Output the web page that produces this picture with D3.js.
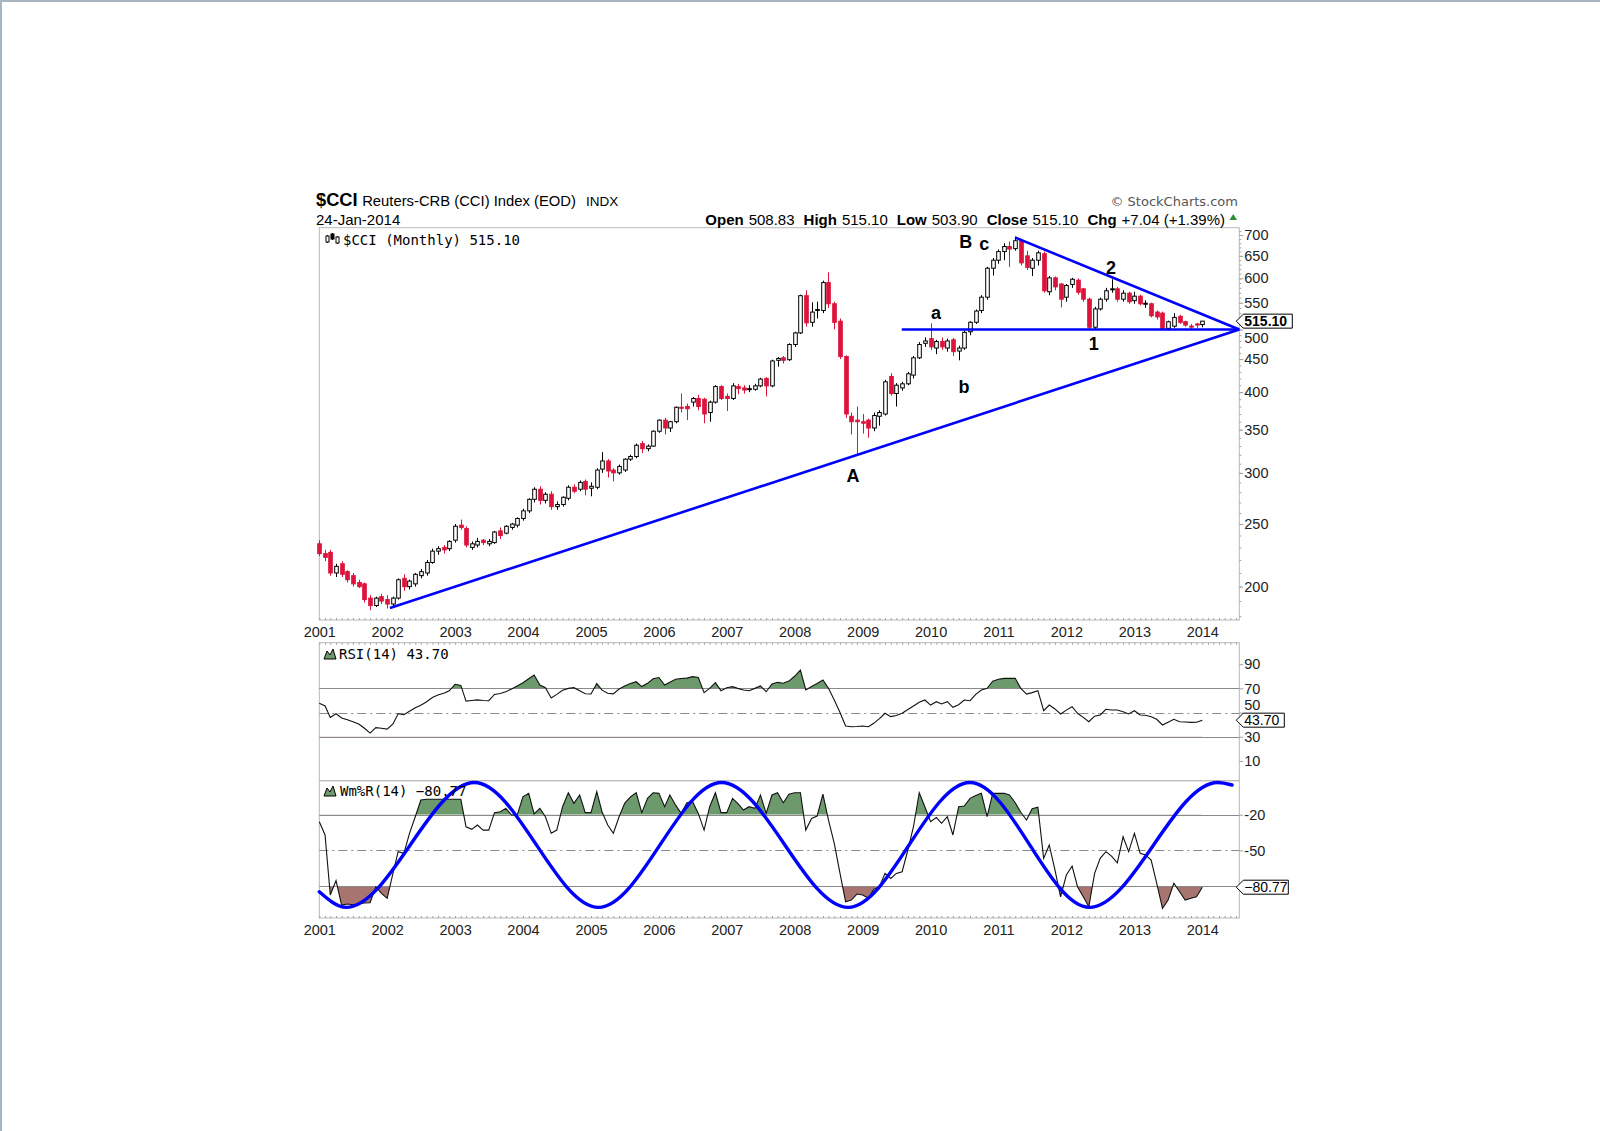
<!DOCTYPE html>
<html>
<head>
<meta charset="utf-8">
<script src="https://cdnjs.cloudflare.com/ajax/libs/d3/7.8.5/d3.min.js"></script>
<style>
body{margin:0;background:#fff;}
svg{display:block;font-family:Arial,"Liberation Sans",sans-serif;}
</style>
</head>
<body>
<script>
// monthly candles from Jan 2001, [open, high, low, close]
const firstMonth = '2001-01-01';
const ohlc = [
  [233,236,223,225],[225,228,219,222],[226,228,208,210],[210,217,207,215],[217,219,207,209],[211,212,203,205],
  [208,210,200,202],[203,205,199,200],[202,203,189,191],[192,194,184,187],[187,193,186,192],[193,195,188,190],
  [191,194,185,188],[188,193,186,192],[192,206,191,205],[206,209,197,200],[200,205,198,204],[202,210,200,209],
  [208,213,206,211],[210,220,208,218],[218,229,217,227],[227,231,224,229],[230,232,225,228],[229,236,227,235],
  [236,250,234,248],[249,254,245,247],[246,248,230,232],[230,235,228,233],[232,238,230,235],[236,237,232,234],
  [233,237,231,235],[234,244,233,243],[244,247,237,240],[242,249,241,248],[247,251,245,250],[249,256,247,255],
  [255,264,253,262],[262,274,260,273],[273,285,270,283],[283,286,268,272],[272,280,269,278],[278,281,263,266],
  [266,271,263,268],[268,276,266,275],[274,287,272,285],[285,288,279,281],[283,292,281,290],[291,293,277,283],
  [284,290,276,286],[285,305,283,303],[304,323,300,313],[313,315,295,302],[303,305,291,300],[300,309,298,307],
  [303,316,301,315],[315,320,313,318],[318,333,316,331],[333,336,322,327],[327,332,324,330],[330,349,329,348],
  [348,363,346,362],[362,365,344,352],[352,361,347,360],[360,380,358,379],[379,398,372,378],[380,384,362,377],
  [386,393,380,391],[391,396,375,380],[390,392,358,370],[372,388,360,386],[386,410,384,408],[408,410,389,391],
  [394,398,374,391],[391,413,389,409],[408,412,397,405],[406,410,398,403],[405,410,400,405],[404,412,402,409],
  [409,421,407,419],[420,422,394,409],[409,449,407,447],[448,453,438,451],[452,455,443,448],[449,476,447,474],
  [474,496,470,494],[494,566,492,564],[564,575,505,512],[513,551,505,532],[535,552,520,537],[535,595,530,591],
  [591,613,540,548],[548,552,500,513],[515,520,450,454],[454,456,365,370],[367,372,344,360],[362,380,320,360],
  [360,370,345,358],[362,364,340,352],[352,372,348,368],[367,375,355,372],[370,418,368,415],[423,428,395,398],
  [398,413,380,410],[406,415,402,412],[412,430,410,427],[425,455,420,452],[452,478,450,474],[476,486,470,480],
  [484,511,465,470],[468,482,458,479],[479,486,465,470],[468,484,462,480],[482,485,455,462],[463,472,448,468],
  [468,498,465,495],[496,515,490,513],[513,537,510,534],[535,565,530,561],[561,625,556,622],[622,645,606,640],
  [640,665,632,660],[660,680,640,672],[672,684,625,666],[667,696,662,686],[686,690,628,634],[650,662,618,624],
  [622,645,605,640],[640,662,628,657],[655,660,570,574],[572,605,565,601],[601,604,575,582],[588,590,541,557],
  [561,588,552,585],[587,601,580,598],[596,600,566,571],[578,580,552,557],[557,560,500,504],[504,542,500,538],
  [538,560,535,557],[557,580,552,574],[576,598,570,578],[578,582,552,557],[557,575,552,569],[569,572,548,552],
  [554,572,548,563],[563,566,545,548],[548,555,540,549],[548,550,522,525],[532,535,518,523],[530,533,499,501],
  [502,516,498,514],[506,530,503,522],[524,527,510,513],[514,516,505,508],[506,510,501,505],[510,512,503,508],
  [508.83,515.10,503.90,515.10]
];

const rsi = [
  57.6,55.5,46,49,45.5,44,42.4,40.5,37,33,37.5,37,
  36.3,40.5,49,48.2,51,54,56,59,62.5,64.5,66,68,
  73.4,72.5,59.5,60,60.5,60,59.8,65,65.8,67.2,69.5,72,
  74.7,78,81,72.8,70.6,62,65,68.5,70,70.6,68,65.5,
  65.3,74,68.5,66,65.5,69.5,72,74,75.5,71.5,74.2,78,
  79,72.8,75,77.5,78.2,78.5,79.7,79,66.4,70,74.7,68.1,
  70.5,71.4,70,68.7,68.1,70,72,67.2,73.6,75,74.2,76,
  80,85.2,68.7,71.5,74,76.9,70,60.4,50,38.9,38.3,38.5,
  38.9,38.3,41.1,45,49.4,46.6,47.5,49.4,52.5,55.4,58.5,60.4,
  56.2,59,57.1,59,54.3,56.5,60.4,59.8,65,68.7,70,76,
  77.5,78.3,78.3,78.3,70,65.3,66.5,68.1,51.5,56.2,53,48.8,
  52,54.8,49.4,46,42.4,47,48,52.7,52.1,52.1,50.7,48.8,
  51.5,48,47.8,46.6,44.4,39.7,42,44.4,42.4,42.2,41.9,42,
  43.7
];

const wpr = [
  -25.9,-37,-87.3,-75.3,-95.7,-94.9,-95.5,-94.6,-94,-93.8,-80.4,-86,
  -90.1,-69.2,-51,-52.4,-35.6,-21.7,-7.7,-7.1,-7.1,-7.1,-7.1,-7.1,
  -7.1,-7.1,-30.1,-32.3,-28.7,-32.9,-32.9,-18.3,-17.5,-14.7,-20.3,-20.3,
  -5,-2.1,-19.4,-14.7,-21.7,-35.6,-32.9,-13.3,-1.6,-10.5,-3.5,-18.3,
  -18.3,-0.7,-17.5,-28.7,-35.6,-21.7,-10.5,-5,-1.6,-18.3,-6.3,-1.6,
  -2.1,-13.3,-3.5,-12,-18.9,-10,-9.1,-18.9,-32.9,-13.3,-1.6,-18.3,
  -18.3,-6.3,-10.5,-16.1,-13.3,-14.7,-3.5,-18.9,-3.5,-1.6,-10,-2.8,
  -1.6,-1.6,-32.9,-23.1,-21.1,-2.8,-24.5,-44,-69.2,-93,-91.6,-86.5,
  -87.3,-90.1,-82.6,-80.4,-69.2,-73.4,-69.2,-67.8,-49.6,-30.1,-1.6,-13.3,
  -25.9,-22.4,-27.2,-21.7,-37,-13.3,-12.7,-6.3,-4,-2.1,-21.7,-2.1,
  -2.1,-2.1,-3.5,-10,-18,-24.5,-15,-13.8,-56.6,-45.4,-66.4,-88.8,
  -70.6,-63,-80.4,-88.8,-97.1,-69.2,-56.6,-51,-55,-60.3,-38.5,-51,
  -35.6,-52.4,-53.7,-58,-77.5,-98.5,-91.5,-77.5,-84.6,-91.5,-90,-88.8,
  -80.77
];

// hand drawn cycle on the Williams %R panel: turning points
const cycle = [
  ['2001-01-01',-84.6],['2001-05-25',-97.7],['2003-04-15',7],['2005-02-10',-97.7],['2006-12-04',7],
  ['2008-10-15',-97.7],['2010-08-01',7],['2012-05-04',-97.7],['2014-03-25',7],['2014-06-10',4.9]
];

// trend lines on the price panel: [start date, value, end date, value]
const trendLines = [
  ['2002-01-16',185.3,'2014-07-19',500],
  ['2011-03-31',694,'2014-07-19',500],
  ['2009-07-30',500,'2014-07-19',500]
];

const waveLabels = [
  ['A','2008-11-10',296.7],['a','2010-01-30',532],['b','2010-06-29',408],
  ['B','2010-07-09',683],['c','2010-10-16',680],['1','2012-05-28',476],['2','2012-08-28',624]
];

const years = d3.range(2001, 2015);
const priceTicks = [200,250,300,350,400,450,500,550,600,650,700];
const rsiTicks = [90,70,50,30,10];
const rsiLines = [70,30];
const wprTicks = [-20,-50,-80];
const wprLines = [-20,-80];

const W = 1600, H = 1131;
const red = '#dc143c', blue = '#0000ff', green = '#6d9a6d', brown = '#a8746f';
const parseDate = d3.timeParse('%Y-%m-%d');

let svg = d3.select('body').append('svg')
    .attr('width', W)
    .attr('height', H);

// page frame
svg.append('path')
    .attr('d', `M1,${H} V1 H${W}`)
    .attr('fill', 'none')
    .attr('stroke', '#a9b4c1')
    .attr('stroke-width', 2);

let plot = {left: 319.3, right: 1239.3};
let panels = {
    price: {top: 227.7, bottom: 620},
    rsi: {top: 642.7, bottom: 780.7},
    wpr: {top: 780.7, bottom: 918}
};

let x = d3.scaleTime()
    .domain([parseDate('2001-01-01'), parseDate('2014-07-19')])
    .range([plot.left, plot.right]);
let yPrice = d3.scaleLog().domain([177.6, 718.6]).range([panels.price.bottom, panels.price.top]);
let yRsi = d3.scaleLinear().domain([-6.4, 107.8]).range([panels.rsi.bottom, panels.rsi.top]);
let yWpr = d3.scaleLinear().domain([-106.6, 8.5]).range([panels.wpr.bottom, panels.wpr.top]);

let months = d3.timeMonth.range(parseDate(firstMonth), d3.timeMonth.offset(parseDate(firstMonth), ohlc.length));
let candles = ohlc.map((d, i) => ({date: months[i], o: d[0], h: d[1], l: d[2], c: d[3]}));
let lastClose = ohlc[ohlc.length - 1][3],
    lastRsi = rsi[rsi.length - 1],
    lastWpr = wpr[wpr.length - 1];

// panel frames
Object.values(panels).forEach(p => {
    svg.append('rect')
        .attr('x', plot.left).attr('y', p.top)
        .attr('width', plot.right - plot.left).attr('height', p.bottom - p.top)
        .attr('fill', 'none')
        .attr('stroke', '#b8b8b8');
});

function styleAxis(g, size){
    g.select('.domain').remove();
    g.attr('font-family', 'Arial, "Liberation Sans", sans-serif')
        .attr('font-size', size)
        .attr('fill', '#222');
    g.selectAll('.tick line').attr('stroke', '#a0a0a0');
    g.selectAll('.tick text').attr('fill', '#222');
}

// month ticks along panel edges
[[panels.price.bottom, -2], [panels.rsi.top, 2], [panels.wpr.bottom, -2]].forEach(([yy, s]) => {
    svg.append('g')
        .attr('transform', `translate(0,${yy})`)
        .call(d3.axisBottom(x).ticks(d3.timeMonth.every(1)).tickSize(s).tickFormat(''))
        .call(g => styleAxis(g, 10));
});

// year labels
let yearDates = years.map(yr => new Date(yr, 0, 1));
[[panels.price.bottom, 7.2], [panels.wpr.bottom, 6.8]].forEach(([yy, pad]) => {
    svg.append('g')
        .attr('transform', `translate(0,${yy})`)
        .call(d3.axisBottom(x).tickValues(yearDates).tickSize(0).tickPadding(pad).tickFormat(d3.timeFormat('%Y')))
        .call(g => styleAxis(g, 14.5));
});

// right axes; labels hidden by the last value boxes are nudged clear of them
function nudge(g, value, dy){
    g.selectAll('.tick').filter(d => d === value).select('text').attr('y', dy);
}
svg.append('g')
    .attr('transform', `translate(${plot.right},0)`)
    .call(d3.axisRight(yPrice).tickValues(d3.range(180, 720, 10)).tickSize(2).tickFormat(''))
    .call(g => styleAxis(g, 10));
svg.append('g')
    .attr('transform', `translate(${plot.right},0)`)
    .call(d3.axisRight(yPrice).tickValues(priceTicks).tickSize(4).tickPadding(1).tickFormat(d3.format('d')))
    .call(g => styleAxis(g, 14.5))
    .call(g => nudge(g, 500, 8));
svg.append('g')
    .attr('transform', `translate(${plot.right},0)`)
    .call(d3.axisRight(yRsi).tickValues(rsiTicks).tickSize(4).tickPadding(1))
    .call(g => styleAxis(g, 14.5))
    .call(g => nudge(g, 50, -8));
svg.append('g')
    .attr('transform', `translate(${plot.right},0)`)
    .call(d3.axisRight(yWpr).tickValues(wprTicks).tickSize(4).tickPadding(1)
        .tickFormat(d => d === -80 ? '' : d))
    .call(g => styleAxis(g, 14.5));

// candles
let cg = svg.append('g').classed('candles', true);
let bodyW = 3.6;
cg.selectAll('line.wick')
    .data(candles)
    .enter().append('line')
    .classed('wick', true)
    .attr('x1', d => Math.round(x(d.date)) + 0.5)
    .attr('x2', d => Math.round(x(d.date)) + 0.5)
    .attr('y1', d => yPrice(d.h))
    .attr('y2', d => yPrice(d.l))
    .attr('stroke', d => d.c < d.o ? red : '#000');
cg.selectAll('rect.body')
    .data(candles)
    .enter().append('rect')
    .classed('body', true)
    .attr('x', d => Math.round(x(d.date)) + 0.5 - bodyW / 2)
    .attr('y', d => yPrice(Math.max(d.o, d.c)))
    .attr('width', bodyW)
    .attr('height', d => Math.max(1, Math.abs(yPrice(d.o) - yPrice(d.c))))
    .attr('fill', d => d.c < d.o ? red : '#fff')
    .attr('stroke', d => d.c < d.o ? red : '#000')
    .attr('stroke-width', 1);

// trend lines
svg.append('g').selectAll('line')
    .data(trendLines)
    .enter().append('line')
    .attr('x1', d => x(parseDate(d[0])))
    .attr('y1', d => yPrice(d[1]))
    .attr('x2', d => x(parseDate(d[2])))
    .attr('y2', d => yPrice(d[3]))
    .attr('stroke', blue)
    .attr('stroke-width', 2.6);

// wave labels
svg.append('g').selectAll('text')
    .data(waveLabels)
    .enter().append('text')
    .attr('x', d => x(parseDate(d[1])))
    .attr('y', d => yPrice(d[2]))
    .attr('dy', '0.36em')
    .attr('text-anchor', 'middle')
    .attr('font-size', 18)
    .attr('font-weight', 'bold')
    .text(d => d[0]);

// indicator panels
function indicator(values, y, panel, levels, mid){
    let pts = values.map((v, i) => ({date: months[i], v: v}));
    let g = svg.append('g');
    let id = 'clip' + Math.round(panel.top);

    // fills beyond the upper / lower levels
    let defs = svg.append('defs');
    defs.append('clipPath').attr('id', id + 'u')
        .append('rect').attr('x', plot.left).attr('y', panel.top)
        .attr('width', plot.right - plot.left).attr('height', y(levels[0]) - panel.top);
    defs.append('clipPath').attr('id', id + 'l')
        .append('rect').attr('x', plot.left).attr('y', y(levels[1]))
        .attr('width', plot.right - plot.left).attr('height', panel.bottom - y(levels[1]));
    g.append('path')
        .attr('d', d3.area().x(d => x(d.date)).y0(y(levels[0])).y1(d => y(d.v))(pts))
        .attr('fill', green)
        .attr('clip-path', `url(#${id}u)`);
    g.append('path')
        .attr('d', d3.area().x(d => x(d.date)).y0(y(levels[1])).y1(d => y(d.v))(pts))
        .attr('fill', brown)
        .attr('clip-path', `url(#${id}l)`);

    g.selectAll('line.level')
        .data(levels)
        .enter().append('line')
        .classed('level', true)
        .attr('x1', plot.left).attr('x2', plot.right)
        .attr('y1', d => Math.round(y(d)) + 0.5).attr('y2', d => Math.round(y(d)) + 0.5)
        .attr('stroke', '#8a8a8a');
    g.append('line')
        .attr('x1', plot.left).attr('x2', plot.right)
        .attr('y1', Math.round(y(mid)) + 0.5).attr('y2', Math.round(y(mid)) + 0.5)
        .attr('stroke', '#8a8a8a')
        .attr('stroke-dasharray', '9,4,2,4');

    g.append('path')
        .attr('d', d3.line().x(d => x(d.date)).y(d => y(d.v))(pts))
        .attr('fill', 'none')
        .attr('stroke', '#111')
        .attr('stroke-width', 1.1);
    return g;
}

indicator(rsi, yRsi, panels.rsi, rsiLines, 50);
indicator(wpr, yWpr, panels.wpr, wprLines, -50);

// cycle drawn over Williams %R
svg.append('path')
    .attr('d', d3.line()
        .curve(d3.curveMonotoneX)
        .x(d => x(parseDate(d[0])))
        .y(d => yWpr(d[1]))(cycle))
    .attr('fill', 'none')
    .attr('stroke', blue)
    .attr('stroke-width', 3.4)
    .attr('stroke-linecap', 'round');

// last value markers
function valueMarker(yy, label, w, bold){
    let x0 = plot.right - 3;
    let g = svg.append('g');
    g.append('path')
        .attr('d', `M${x0},${yy} L${x0 + 7},${yy - 7} H${x0 + w} V${yy + 7} H${x0 + 7} Z`)
        .attr('fill', '#fff')
        .attr('stroke', '#000');
    g.append('text')
        .attr('x', x0 + 8).attr('y', yy).attr('dy', '0.36em')
        .attr('font-size', 14)
        .attr('font-weight', bold ? 'bold' : 'normal')
        .text(label);
}
valueMarker(yPrice(lastClose), d3.format('.2f')(lastClose), 56, true);
valueMarker(yRsi(lastRsi), d3.format('.2f')(lastRsi), 48, false);
valueMarker(yWpr(lastWpr), d3.format('.2f')(lastWpr), 52, false);

// panel titles with little icons
function mountainIcon(x0, y0){
    svg.append('path')
        .attr('d', `M${x0},${y0} L${x0 + 3},${y0 - 8} L${x0 + 6},${y0 - 4} L${x0 + 9},${y0 - 10} L${x0 + 12},${y0} Z`)
        .attr('fill', green)
        .attr('stroke', '#000')
        .attr('stroke-width', 1);
}
function candleIcon(x0, y0){
    let g = svg.append('g').attr('stroke', '#000').attr('stroke-width', 1);
    [[0, 2, 6], [5, 0, 5], [10, 3, 6]].forEach(([dx, t, h]) => {
        g.append('line').attr('x1', x0 + dx + 1.5).attr('x2', x0 + dx + 1.5).attr('y1', y0 - 10 + t - 1).attr('y2', y0 - 10 + t + h + 1);
        g.append('rect').attr('x', x0 + dx).attr('y', y0 - 10 + t).attr('width', 3).attr('height', h)
            .attr('fill', dx === 5 ? '#000' : '#fff');
    });
}
let mono = '"DejaVu Sans Mono", monospace';
candleIcon(326, 244);
svg.append('text').attr('x', 343).attr('y', 245).attr('font-family', mono).attr('font-size', 14)
    .text('$CCI (Monthly) ' + d3.format('.2f')(lastClose));
mountainIcon(324, 659);
svg.append('text').attr('x', 339).attr('y', 659).attr('font-family', mono).attr('font-size', 14)
    .text('RSI(14) ' + d3.format('.2f')(lastRsi));
mountainIcon(324, 796);
svg.append('text').attr('x', 340).attr('y', 796).attr('font-family', mono).attr('font-size', 14)
    .text('Wm%R(14) ' + d3.format('.2f')(lastWpr));

// header
let head = svg.append('g');
head.append('text').attr('x', 316).attr('y', 206)
    .call(t => {
        t.append('tspan').attr('font-size', 18.3).attr('font-weight', 'bold').text('$CCI');
        t.append('tspan').attr('font-size', 14.8).attr('dx', 4.5).text('Reuters-CRB (CCI) Index (EOD)');
        t.append('tspan').attr('font-size', 13.5).attr('dx', 10).text('INDX');
    });
head.append('text').attr('x', 316).attr('y', 225).attr('font-size', 15).text('24-Jan-2014');
head.append('text').attr('x', 1238).attr('y', 206).attr('text-anchor', 'end')
    .attr('font-family', '"DejaVu Sans", sans-serif').attr('font-size', 13).attr('fill', '#555')
    .text('\u00A9 StockCharts.com');

let last = ohlc[ohlc.length - 1];
let quote = [['Open', last[0]], ['High', last[1]], ['Low', last[2]], ['Close', last[3]]];
head.append('text').attr('x', 1225).attr('y', 224.5).attr('text-anchor', 'end').attr('font-size', 15)
    .call(t => {
        quote.forEach((q, i) => {
            t.append('tspan').attr('font-weight', 'bold').attr('dx', i ? 9 : 0).text(q[0]);
            t.append('tspan').attr('dx', 5).text(d3.format('.2f')(q[1]));
        });
        t.append('tspan').attr('font-weight', 'bold').attr('dx', 9).text('Chg');
        t.append('tspan').attr('dx', 5).text('+7.04 (+1.39%)');
    });
head.append('path')
    .attr('d', 'M1229.5,220 L1237,220 L1233.25,214 Z')
    .attr('fill', '#2f8f2f');
</script>
</body>
</html>
